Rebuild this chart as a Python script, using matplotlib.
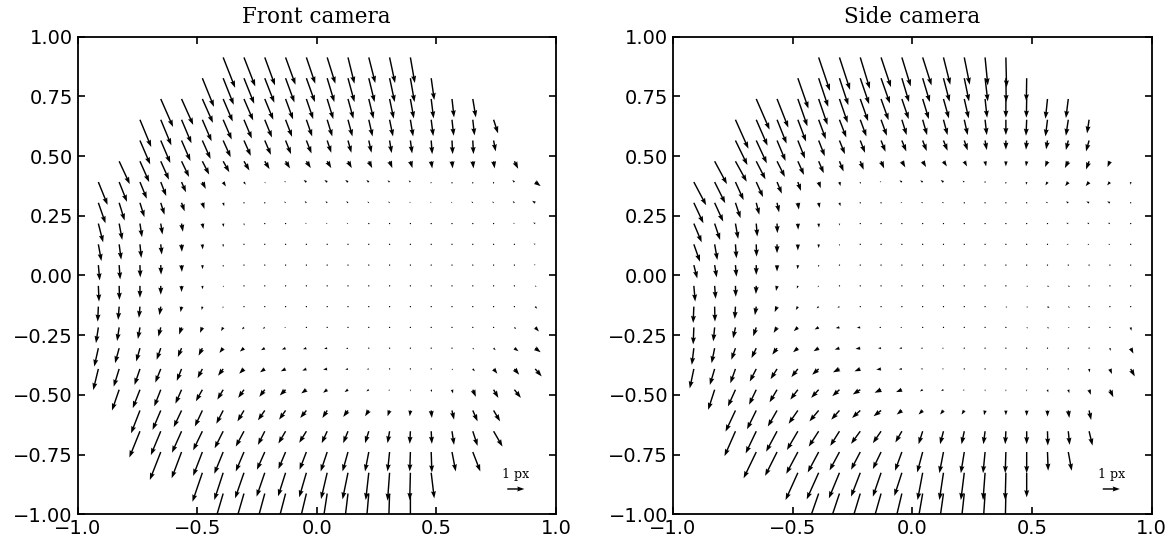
import numpy as np
import matplotlib
matplotlib.use("Agg")
import matplotlib.pyplot as plt

"""Pixel distortion fields of the front and side cameras (quiver plots)"""

# sample grid: 24 x 24 normalised positions, only points inside the unit disc are drawn
grid_n = 24
# grid row index (0 = top row, y = +1) and the first / last grid column drawn in that row
row_index = list(range(1, 23))
row_first = [7, 6, 4, 3, 3, 2, 1, 1, 1, 1, 1, 1, 1, 1, 1, 1, 2, 3, 3, 4, 6, 7]
row_last = [16, 17, 19, 20, 20, 21, 22, 22, 22, 22, 22, 22, 22, 22, 22, 22, 21, 20, 20, 19, 17, 16]

# displacement (px), one list per grid row, left to right
front_u = [
    [0.70, 0.66, 0.60, 0.58, 0.52, 0.48, 0.38, 0.38, 0.32, 0.26],
    [0.68, 0.62, 0.60, 0.56, 0.52, 0.50, 0.42, 0.38, 0.34, 0.30, 0.24, 0.18],
    [0.72, 0.68, 0.62, 0.56, 0.54, 0.50, 0.44, 0.40, 0.36, 0.32, 0.28, 0.24, 0.20, 0.14, 0.12, 0.18],
    [0.66, 0.62, 0.58, 0.54, 0.50, 0.46, 0.42, 0.38, 0.34, 0.30, 0.26, 0.22, 0.20, 0.16, 0.12, 0.10, 0.10, 0.26],
    [0.60, 0.56, 0.52, 0.48, 0.44, 0.40, 0.36, 0.32, 0.30, 0.24, 0.20, 0.16, 0.12, 0.10, 0.06, 0.04, 0.04, 0.12],
    [0.62, 0.54, 0.48, 0.44, 0.40, 0.36, 0.32, 0.28, 0.26, 0.26, 0.24, 0.22, 0.20, 0.16, 0.12, 0.06, 0.04, 0.04, 0.06, 0.22],
    [0.54, 0.46, 0.40, 0.32, 0.26, 0.20, 0.16, 0.10, 0.04, -0.08, -0.16, -0.16, -0.16, -0.14, -0.12, -0.10, -0.02, 0.00, 0.00, -0.02, -0.12, 0.32],
    [0.42, 0.32, 0.26, 0.22, 0.18, 0.12, 0.06, 0.02, 0.00, -0.08, -0.10, -0.10, -0.10, -0.08, -0.08, -0.06, -0.06, -0.06, -0.08, -0.08, -0.10, -0.18],
    [0.28, 0.18, 0.12, 0.10, 0.08, 0.06, 0.02, 0.02, 0.00, 0.00, -0.08, -0.08, -0.08, -0.04, 0.00, 0.00, 0.00, 0.00, 0.00, -0.04, -0.08, -0.12],
    [0.18, 0.12, 0.08, 0.06, 0.02, 0.02, 0.00, 0.00, 0.00, 0.00, 0.00, 0.00, 0.00, 0.00, 0.00, 0.00, 0.00, 0.00, 0.00, 0.00, -0.04, -0.10],
    [0.08, 0.06, 0.02, 0.02, 0.02, 0.02, 0.00, 0.00, 0.00, 0.00, 0.00, 0.00, 0.00, 0.00, 0.00, 0.00, 0.00, 0.00, 0.00, 0.00, 0.00, -0.08],
    [0.04, 0.02, 0.00, 0.00, 0.00, 0.02, 0.04, 0.02, 0.00, 0.00, 0.00, 0.00, 0.00, 0.00, 0.00, 0.00, 0.00, 0.00, 0.00, 0.00, 0.04, 0.08],
    [-0.04, -0.06, -0.06, -0.08, -0.06, -0.04, -0.02, -0.02, 0.00, 0.00, 0.00, 0.00, 0.00, 0.00, 0.00, 0.00, 0.00, 0.00, 0.00, 0.00, 0.04, 0.12],
    [-0.14, -0.12, -0.12, -0.14, -0.14, -0.14, -0.12, -0.12, -0.12, -0.08, -0.08, -0.04, -0.02, 0.00, 0.00, 0.00, 0.00, 0.00, 0.00, 0.00, 0.10, 0.22],
    [-0.24, -0.24, -0.22, -0.24, -0.22, -0.22, -0.22, -0.24, -0.22, -0.22, -0.20, -0.18, -0.12, -0.06, -0.02, 0.00, 0.00, 0.02, 0.08, 0.12, 0.24, 0.32],
    [-0.30, -0.32, -0.32, -0.32, -0.28, -0.28, -0.30, -0.28, -0.28, -0.28, -0.24, -0.24, -0.16, -0.12, -0.02, 0.00, 0.02, 0.06, 0.12, 0.22, 0.28, 0.38],
    [-0.42, -0.42, -0.38, -0.36, -0.38, -0.34, -0.34, -0.32, -0.34, -0.30, -0.24, -0.20, -0.14, -0.06, 0.00, 0.04, 0.06, 0.18, 0.28, 0.38],
    [-0.52, -0.48, -0.46, -0.44, -0.40, -0.38, -0.40, -0.38, -0.36, -0.28, -0.28, -0.22, -0.12, -0.04, 0.04, 0.12, 0.28, 0.38],
    [-0.62, -0.58, -0.56, -0.54, -0.50, -0.48, -0.40, -0.42, -0.42, -0.32, -0.28, -0.22, -0.12, -0.04, 0.04, 0.12, 0.28, 0.52],
    [-0.64, -0.58, -0.54, -0.52, -0.48, -0.46, -0.42, -0.40, -0.38, -0.32, -0.22, -0.12, -0.04, 0.04, 0.22, 0.44],
    [-0.58, -0.52, -0.52, -0.48, -0.44, -0.42, -0.36, -0.32, -0.18, -0.12, -0.04, 0.18],
    [-0.56, -0.54, -0.50, -0.48, -0.44, -0.28, -0.22, -0.16, -0.06, 0.00],
]
front_v = [
    [-1.78, -1.70, -1.64, -1.60, -1.54, -1.54, -1.54, -1.50, -1.50, -1.50],
    [-1.68, -1.56, -1.50, -1.44, -1.42, -1.40, -1.40, -1.40, -1.40, -1.40, -1.40, -1.28],
    [-1.64, -1.52, -1.40, -1.32, -1.26, -1.22, -1.20, -1.18, -1.18, -1.16, -1.16, -1.16, -1.14, -1.14, -1.08, -1.08],
    [-1.60, -1.50, -1.38, -1.26, -1.16, -1.10, -1.04, -1.00, -0.98, -0.98, -0.98, -0.98, -0.98, -0.98, -0.96, -0.94, -0.92, -0.80],
    [-1.40, -1.32, -1.20, -1.08, -0.98, -0.90, -0.84, -0.80, -0.76, -0.72, -0.72, -0.72, -0.74, -0.76, -0.80, -0.80, -0.80, -0.64],
    [-1.34, -1.22, -1.08, -0.92, -0.78, -0.64, -0.54, -0.46, -0.42, -0.40, -0.40, -0.40, -0.40, -0.40, -0.40, -0.42, -0.42, -0.42, -0.42, -0.44],
    [-1.34, -1.16, -0.98, -0.82, -0.60, -0.40, -0.26, -0.16, -0.08, 0.06, 0.12, 0.12, 0.12, 0.12, 0.10, 0.10, -0.10, -0.12, -0.12, -0.12, 0.12, -0.24],
    [-1.20, -1.04, -0.84, -0.70, -0.50, -0.36, -0.20, -0.08, -0.06, 0.08, 0.10, 0.10, 0.10, 0.08, 0.08, 0.06, 0.06, 0.06, 0.08, 0.08, 0.10, 0.12],
    [-1.10, -0.96, -0.80, -0.64, -0.48, -0.32, -0.20, -0.12, -0.04, -0.04, 0.04, 0.04, 0.04, 0.02, -0.02, -0.02, -0.02, -0.02, -0.02, 0.02, 0.04, 0.06],
    [-0.98, -0.90, -0.80, -0.60, -0.44, -0.30, -0.16, -0.08, -0.02, -0.02, -0.02, -0.02, -0.02, -0.02, -0.02, -0.02, -0.02, -0.02, -0.02, -0.02, 0.02, 0.04],
    [-0.90, -0.84, -0.72, -0.56, -0.40, -0.24, -0.12, -0.06, -0.02, -0.02, -0.02, -0.02, -0.02, -0.02, -0.02, -0.02, -0.02, -0.02, -0.02, -0.02, -0.02, 0.04],
    [-0.92, -0.82, -0.70, -0.52, -0.36, -0.20, -0.08, -0.04, -0.02, -0.02, -0.02, -0.02, -0.02, -0.02, -0.02, -0.02, -0.02, -0.02, -0.02, -0.02, -0.04, -0.06],
    [-0.88, -0.78, -0.66, -0.50, -0.32, -0.20, -0.10, -0.04, -0.02, -0.02, -0.02, -0.02, -0.02, -0.02, -0.02, -0.02, -0.02, -0.02, -0.02, -0.02, -0.04, -0.12],
    [-0.92, -0.80, -0.68, -0.54, -0.42, -0.32, -0.22, -0.12, -0.08, -0.04, -0.02, -0.02, -0.02, -0.02, -0.02, -0.02, -0.02, -0.02, -0.02, -0.02, -0.10, -0.24],
    [-1.08, -0.88, -0.78, -0.68, -0.52, -0.44, -0.28, -0.20, -0.12, -0.08, -0.06, -0.04, -0.04, -0.02, -0.02, -0.02, -0.02, -0.02, -0.08, -0.12, -0.18, -0.24],
    [-1.24, -1.04, -0.94, -0.80, -0.70, -0.54, -0.40, -0.28, -0.20, -0.14, -0.10, -0.04, -0.04, -0.02, -0.02, -0.02, -0.02, -0.08, -0.14, -0.28, -0.34, -0.44],
    [-1.22, -1.08, -0.98, -0.82, -0.68, -0.58, -0.48, -0.42, -0.34, -0.22, -0.18, -0.14, -0.10, -0.08, -0.10, -0.14, -0.22, -0.42, -0.48, -0.48],
    [-1.34, -1.14, -0.98, -0.94, -0.78, -0.64, -0.58, -0.54, -0.44, -0.44, -0.38, -0.34, -0.34, -0.34, -0.44, -0.54, -0.64, -0.64],
    [-1.54, -1.40, -1.26, -1.12, -1.00, -0.90, -0.80, -0.72, -0.68, -0.70, -0.70, -0.70, -0.70, -0.74, -0.74, -0.80, -0.86, -0.90],
    [-1.64, -1.54, -1.40, -1.28, -1.14, -1.04, -1.00, -1.04, -1.14, -1.14, -1.14, -1.14, -1.14, -1.20, -1.14, -1.14],
    [-1.70, -1.60, -1.50, -1.40, -1.38, -1.44, -1.54, -1.56, -1.60, -1.64, -1.60, -1.50],
    [-1.90, -1.86, -1.84, -1.84, -1.84, -1.84, -1.84, -1.84, -1.84, -1.84],
]

side_u = [
    [0.66, 0.62, 0.56, 0.58, 0.52, 0.52, 0.40, 0.32, 0.16, 0.04],
    [0.62, 0.56, 0.52, 0.52, 0.52, 0.42, 0.42, 0.36, 0.28, 0.16, 0.02, -0.02],
    [0.78, 0.66, 0.56, 0.52, 0.48, 0.46, 0.44, 0.40, 0.36, 0.32, 0.26, 0.12, 0.00, -0.02, -0.12, -0.14],
    [0.76, 0.66, 0.56, 0.48, 0.42, 0.40, 0.36, 0.34, 0.28, 0.26, 0.24, 0.20, 0.10, 0.00, -0.04, -0.12, -0.14, -0.12],
    [0.70, 0.62, 0.50, 0.42, 0.36, 0.32, 0.28, 0.26, 0.26, 0.24, 0.24, 0.20, 0.10, 0.00, -0.04, -0.08, -0.14, -0.18],
    [0.72, 0.66, 0.54, 0.46, 0.36, 0.30, 0.24, 0.20, 0.18, 0.20, 0.20, 0.20, 0.16, 0.06, 0.00, -0.04, -0.14, -0.20, -0.18, -0.14],
    [0.72, 0.62, 0.48, 0.40, 0.28, 0.18, 0.12, 0.06, 0.00, -0.08, -0.14, -0.14, -0.16, -0.10, -0.02, 0.00, -0.04, -0.12, -0.18, -0.20, -0.16, 0.00],
    [0.56, 0.50, 0.30, 0.18, 0.12, 0.06, 0.06, 0.06, 0.04, -0.06, -0.08, -0.10, -0.10, -0.08, -0.04, 0.00, 0.02, -0.10, -0.14, -0.16, -0.16, -0.04],
    [0.46, 0.32, 0.16, 0.06, 0.02, 0.02, 0.02, 0.00, 0.00, -0.04, -0.06, -0.06, -0.04, -0.02, 0.00, 0.00, 0.00, -0.06, -0.12, -0.12, -0.12, -0.04],
    [0.36, 0.16, 0.06, 0.02, 0.00, 0.00, 0.00, 0.00, 0.00, -0.02, -0.02, -0.02, 0.00, 0.00, 0.00, 0.02, -0.02, -0.08, -0.10, -0.10, -0.10, -0.02],
    [0.20, 0.12, 0.06, 0.00, 0.00, -0.02, 0.00, 0.00, 0.00, 0.00, 0.00, 0.00, 0.00, 0.00, 0.00, 0.02, 0.04, 0.06, -0.06, -0.08, -0.08, 0.00],
    [0.08, 0.06, 0.02, -0.02, -0.06, -0.06, -0.06, -0.06, -0.02, 0.00, 0.00, 0.00, 0.02, 0.02, 0.06, 0.06, 0.08, 0.10, 0.10, -0.04, -0.08, 0.00],
    [-0.04, 0.02, -0.04, -0.08, -0.14, -0.12, -0.12, -0.12, -0.08, -0.04, -0.02, 0.00, 0.00, 0.02, 0.06, 0.08, 0.08, 0.12, 0.10, 0.04, -0.04, 0.00],
    [-0.04, -0.08, -0.14, -0.18, -0.20, -0.24, -0.24, -0.22, -0.20, -0.12, -0.10, -0.06, -0.04, -0.02, 0.02, 0.06, 0.08, 0.10, 0.08, 0.02, 0.06, 0.04],
    [-0.12, -0.18, -0.24, -0.28, -0.28, -0.28, -0.30, -0.28, -0.28, -0.18, -0.16, -0.12, -0.10, 0.04, 0.06, 0.06, 0.06, 0.02, -0.02, 0.06, 0.04, 0.16],
    [-0.24, -0.28, -0.30, -0.38, -0.38, -0.38, -0.38, -0.38, -0.34, -0.28, -0.18, -0.12, -0.10, 0.06, 0.04, 0.02, 0.02, 0.06, 0.08, 0.04, 0.12, 0.24],
    [-0.38, -0.44, -0.42, -0.44, -0.44, -0.44, -0.42, -0.44, -0.38, -0.34, -0.16, -0.14, -0.08, 0.00, 0.00, 0.00, 0.04, 0.06, 0.10, 0.20],
    [-0.58, -0.54, -0.54, -0.54, -0.54, -0.48, -0.48, -0.44, -0.30, -0.24, -0.20, -0.16, -0.06, 0.00, 0.00, 0.00, 0.06, 0.12],
    [-0.64, -0.62, -0.64, -0.64, -0.58, -0.54, -0.54, -0.48, -0.38, -0.24, -0.20, -0.16, -0.10, -0.04, 0.00, 0.02, 0.08, 0.20],
    [-0.74, -0.70, -0.68, -0.64, -0.58, -0.54, -0.48, -0.40, -0.32, -0.24, -0.20, -0.12, -0.04, 0.00, 0.04, 0.20],
    [-0.72, -0.70, -0.62, -0.54, -0.48, -0.44, -0.30, -0.24, -0.20, -0.12, -0.04, 0.00],
    [-0.66, -0.62, -0.56, -0.52, -0.44, -0.32, -0.26, -0.20, -0.12, -0.04],
]
side_v = [
    [-1.96, -1.90, -1.84, -1.74, -1.70, -1.64, -1.60, -1.60, -1.64, -1.76],
    [-1.78, -1.68, -1.58, -1.52, -1.48, -1.40, -1.40, -1.38, -1.36, -1.36, -1.40, -1.36],
    [-1.80, -1.68, -1.60, -1.52, -1.40, -1.30, -1.24, -1.18, -1.18, -1.14, -1.14, -1.10, -1.10, -1.10, -1.16, -1.12],
    [-1.70, -1.52, -1.40, -1.28, -1.14, -1.04, -0.98, -0.94, -0.90, -0.90, -0.90, -0.90, -0.90, -0.90, -0.94, -0.98, -0.94, -0.80],
    [-1.44, -1.34, -1.20, -1.06, -0.92, -0.80, -0.72, -0.66, -0.64, -0.62, -0.60, -0.58, -0.56, -0.54, -0.54, -0.52, -0.56, -0.64],
    [-1.34, -1.20, -1.06, -0.92, -0.80, -0.70, -0.60, -0.50, -0.42, -0.36, -0.34, -0.30, -0.30, -0.30, -0.30, -0.30, -0.34, -0.40, -0.48, -0.34],
    [-1.36, -1.24, -1.06, -0.88, -0.68, -0.52, -0.36, -0.24, -0.12, 0.04, 0.10, 0.10, 0.12, 0.08, -0.08, -0.12, -0.16, -0.20, -0.24, -0.24, -0.20, -0.16],
    [-1.20, -1.10, -0.90, -0.70, -0.56, -0.40, -0.30, -0.20, -0.06, 0.02, 0.04, 0.04, 0.04, 0.02, 0.00, -0.02, -0.02, 0.06, 0.08, 0.08, 0.08, 0.04],
    [-1.10, -0.96, -0.90, -0.76, -0.56, -0.36, -0.24, -0.12, -0.04, 0.00, 0.00, 0.00, 0.00, 0.00, 0.00, 0.00, 0.00, 0.02, 0.04, 0.04, 0.04, 0.02],
    [-1.02, -0.92, -0.82, -0.72, -0.52, -0.36, -0.22, -0.10, -0.04, 0.00, 0.00, 0.00, 0.00, 0.00, 0.00, 0.00, 0.00, 0.00, 0.00, 0.00, 0.00, 0.00],
    [-0.78, -0.72, -0.68, -0.58, -0.38, -0.24, -0.12, -0.06, -0.02, -0.02, -0.02, -0.02, -0.02, -0.02, -0.02, -0.02, -0.02, -0.02, 0.00, 0.00, 0.00, 0.00],
    [-0.92, -0.76, -0.64, -0.48, -0.30, -0.16, -0.08, -0.04, -0.02, 0.00, 0.00, 0.00, 0.00, 0.00, -0.04, -0.04, -0.06, -0.06, -0.06, 0.00, 0.00, 0.00],
    [-0.96, -0.88, -0.72, -0.50, -0.32, -0.20, -0.10, -0.06, -0.02, 0.00, 0.00, 0.00, 0.00, 0.00, -0.02, -0.06, -0.06, -0.08, -0.06, -0.02, 0.00, 0.00],
    [-1.00, -0.82, -0.64, -0.52, -0.32, -0.22, -0.12, -0.04, -0.02, 0.00, 0.00, 0.00, 0.00, 0.00, -0.02, -0.04, -0.06, -0.06, -0.04, -0.02, -0.04, -0.20],
    [-0.98, -0.88, -0.68, -0.58, -0.38, -0.24, -0.18, -0.08, -0.04, 0.00, 0.00, 0.00, 0.00, 0.00, 0.00, -0.02, -0.04, 0.00, 0.00, -0.04, -0.16, -0.32],
    [-1.14, -0.94, -0.84, -0.74, -0.60, -0.48, -0.34, -0.20, -0.14, -0.04, -0.02, 0.00, 0.00, 0.00, 0.00, 0.00, 0.00, 0.00, -0.02, -0.20, -0.30, -0.44],
    [-1.18, -0.98, -0.88, -0.74, -0.58, -0.48, -0.38, -0.28, -0.18, -0.14, -0.10, -0.08, -0.06, -0.10, -0.10, -0.10, -0.16, -0.20, -0.30, -0.44],
    [-1.24, -1.10, -0.94, -0.78, -0.64, -0.54, -0.44, -0.34, -0.24, -0.24, -0.24, -0.24, -0.28, -0.28, -0.32, -0.36, -0.44, -0.56],
    [-1.46, -1.30, -1.20, -1.10, -0.90, -0.86, -0.74, -0.70, -0.66, -0.76, -0.76, -0.76, -0.76, -0.76, -0.76, -0.84, -0.80, -0.84],
    [-1.54, -1.40, -1.28, -1.20, -1.08, -1.04, -1.00, -1.10, -1.20, -1.24, -1.24, -1.24, -1.24, -1.24, -1.10, -1.10],
    [-1.60, -1.56, -1.50, -1.40, -1.40, -1.36, -1.60, -1.60, -1.60, -1.60, -1.60, -1.44],
    [-1.90, -1.86, -1.84, -1.84, -1.84, -1.84, -1.84, -1.84, -1.84, -1.84],
]

titles = ["Front camera", "Side camera"]


def flatten_field(u_rows, v_rows):
    """turns the per-row lists into flat x, y, u, v arrays"""
    grid = np.linspace(-1, 1, grid_n)
    xs, ys, us, vs = [], [], [], []
    for k, j in enumerate(row_index):
        cols = range(row_first[k], row_last[k] + 1)
        for n, i in enumerate(cols):
            xs.append(grid[i])
            ys.append(grid[grid_n - 1 - j])
            us.append(u_rows[k][n])
            vs.append(v_rows[k][n])
    return np.array(xs), np.array(ys), np.array(us), np.array(vs)


fig = plt.figure(figsize=(11.75, 5.44), dpi=100)
boxes = [[0.066, 0.0546, 0.4072, 0.878], [0.5728, 0.0546, 0.4072, 0.878]]
fields = [(front_u, front_v), (side_u, side_v)]

for box, (u_rows, v_rows), title in zip(boxes, fields, titles):
    ax = fig.add_axes(box)
    x, y, u, v = flatten_field(u_rows, v_rows)
    q = ax.quiver(x, y, u, v, angles="xy", scale_units="xy", scale=14,
                  width=0.003, headwidth=3.5, headlength=5, headaxislength=4.5,
                  color="black")
    ax.quiverkey(q, 0.916, 0.053, 1, "1 px", labelpos="N", coordinates="axes",
                 labelsep=0.08, fontproperties={"family": "serif", "size": 9})
    ax.set_xlim(-1, 1)
    ax.set_ylim(-1, 1)
    ax.set_xticks([-1.0, -0.5, 0.0, 0.5, 1.0])
    ax.set_yticks([-1.0, -0.75, -0.5, -0.25, 0.0, 0.25, 0.5, 0.75, 1.0])
    ax.tick_params(direction="in", top=True, right=True, length=5, width=1.2,
                   labelsize=14)
    for spine in ax.spines.values():
        spine.set_linewidth(1.3)
    ax.set_title(title, family="serif", fontsize=15.5, pad=10)

plt.savefig("out.png")
